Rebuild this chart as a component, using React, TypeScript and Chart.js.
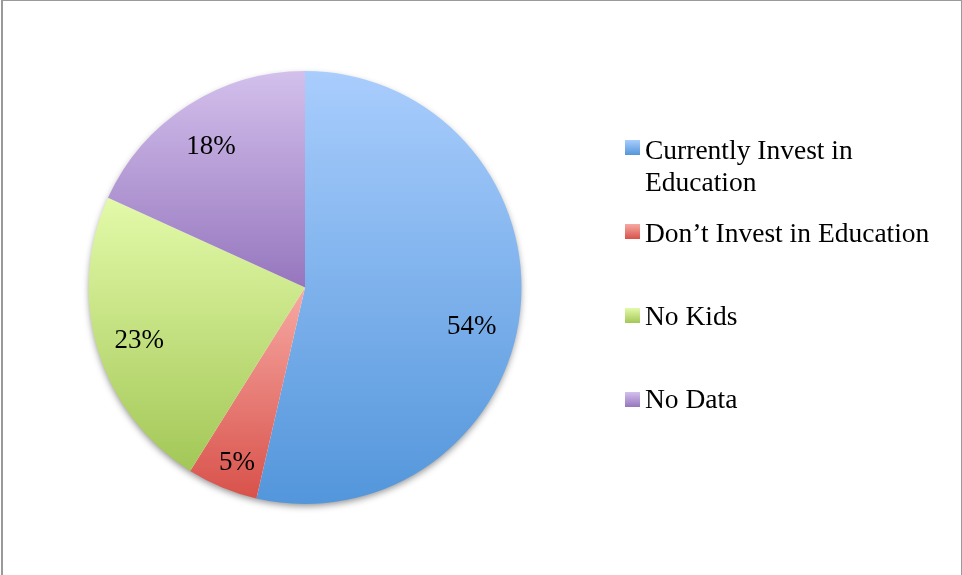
import React, { useEffect, useRef } from 'react';
import { Chart, registerables } from 'chart.js';

Chart.register(...registerables);

const categories = ['Currently Invest in Education', 'Don’t Invest in Education', 'No Kids', 'No Data'];
const legendLines = [['Currently Invest in', 'Education'], ['Don’t Invest in Education'], ['No Kids'], ['No Data']];
const shares = [53.6, 5.3, 22.9, 18.2];
const gradientTops = ['#a9cdfd', '#f7a9a3', '#e3faa9', '#d3c0ec'];
const gradientBottoms = ['#5396db', '#d8524b', '#a3c757', '#9676be'];
// small pixel nudges of the percentage labels away from the slice mid-line
const labelNudges = [[-2, 20], [-3, 18], [-3, 4], [-2, 2]];

const FONT = '"Liberation Serif", serif';

function sliceYBounds(cy: number, r: number, a0: number, a1: number) {
  const ys = [cy, cy + r * Math.sin(a0), cy + r * Math.sin(a1)];
  const within = (a: number) => {
    for (let k = -2; k <= 2; k++) {
      const t = a + k * 2 * Math.PI;
      if (t >= a0 && t <= a1) return true;
    }
    return false;
  };
  if (within(Math.PI / 2)) ys.push(cy + r);
  if (within(-Math.PI / 2)) ys.push(cy - r);
  return [Math.min(...ys), Math.max(...ys)];
}

const shadowPlugin = {
  id: 'pieShadow',
  beforeDatasetsDraw(chart: any) {
    const meta = chart.getDatasetMeta(0);
    const arc = meta.data[0];
    if (!arc) return;
    const ctx = chart.ctx;
    ctx.save();
    ctx.shadowColor = 'rgba(0,0,0,0.45)';
    ctx.shadowBlur = 7;
    ctx.shadowOffsetX = 0;
    ctx.shadowOffsetY = 3;
    ctx.beginPath();
    ctx.arc(arc.x, arc.y, arc.outerRadius - 1, 0, Math.PI * 2);
    ctx.fillStyle = '#ffffff';
    ctx.fill();
    ctx.restore();
  },
};

const labelPlugin = {
  id: 'pieLabels',
  afterDatasetsDraw(chart: any) {
    const meta = chart.getDatasetMeta(0);
    const ctx = chart.ctx;
    const total = shares.reduce((a, b) => a + b, 0);
    ctx.save();
    ctx.font = `27px ${FONT}`;
    ctx.fillStyle = '#000000';
    ctx.textAlign = 'center';
    ctx.textBaseline = 'middle';
    meta.data.forEach((arc: any, i: number) => {
      const mid = (arc.startAngle + arc.endAngle) / 2;
      const d = arc.outerRadius * 0.785;
      const x = arc.x + d * Math.cos(mid) + labelNudges[i][0];
      const y = arc.y + d * Math.sin(mid) + labelNudges[i][1];
      ctx.fillText(`${Math.round((shares[i] / total) * 100)}%`, x, y);
    });
    ctx.restore();
  },
};

const legendPlugin = {
  id: 'sideLegend',
  afterDraw(chart: any) {
    const ctx = chart.ctx;
    const markerX = 625;
    const markerTops = [140, 224, 308, 392];
    const baselines = [[159, 191], [242], [325], [408]];
    ctx.save();
    ctx.font = `27.5px ${FONT}`;
    ctx.textAlign = 'left';
    ctx.textBaseline = 'alphabetic';
    categories.forEach((_, i) => {
      const g = ctx.createLinearGradient(0, markerTops[i], 0, markerTops[i] + 15);
      g.addColorStop(0, gradientTops[i]);
      g.addColorStop(1, gradientBottoms[i]);
      ctx.fillStyle = g;
      ctx.fillRect(markerX, markerTops[i], 15, 15);
      ctx.fillStyle = '#000000';
      legendLines[i].forEach((line, j) => {
        ctx.fillText(line, 645, baselines[i][j]);
      });
    });
    ctx.restore();
  },
};

export default function App() {
  const canvasRef = useRef<HTMLCanvasElement | null>(null);

  useEffect(() => {
    document.body.style.margin = '0';
    const canvas = canvasRef.current;
    if (!canvas) return;
    const total = shares.reduce((a, b) => a + b, 0);
    const chart = new Chart(canvas, {
      type: 'pie',
      data: {
        labels: categories,
        datasets: [
          {
            data: shares,
            borderWidth: 0,
            backgroundColor: (c: any) => {
              const ch = c.chart;
              const area = ch.chartArea;
              const i = c.dataIndex ?? 0;
              if (!area) return gradientTops[i];
              const cx = (area.left + area.right) / 2;
              const cy = (area.top + area.bottom) / 2;
              const r = Math.min(area.right - area.left, area.bottom - area.top) / 2;
              let before = 0;
              for (let k = 0; k < i; k++) before += shares[k];
              const a0 = -Math.PI / 2 + (before / total) * 2 * Math.PI;
              const a1 = a0 + (shares[i] / total) * 2 * Math.PI;
              const [y0, y1] = sliceYBounds(cy, r, a0, a1);
              const g = ch.ctx.createLinearGradient(0, y0, 0, y1);
              g.addColorStop(0, gradientTops[i]);
              g.addColorStop(1, gradientBottoms[i]);
              return g;
            },
          },
        ],
      },
      options: {
        responsive: false,
        animation: false,
        events: [],
        layout: { padding: { left: 88, right: 440, top: 71, bottom: 71 } },
        plugins: {
          legend: { display: false },
          tooltip: { enabled: false },
        },
      },
      plugins: [shadowPlugin, labelPlugin, legendPlugin],
    });
    return () => chart.destroy();
  }, []);

  return (
    <div style={{ position: 'relative', width: 962, height: 575, background: '#ffffff', overflow: 'hidden' }}>
      <canvas ref={canvasRef} width={962} height={575} style={{ position: 'absolute', left: 0, top: 0 }} />
      <div
        style={{
          position: 'absolute',
          left: 1,
          top: 0,
          width: 958,
          height: 600,
          borderTop: '1px solid #9a9a9a',
          borderLeft: '2px solid #9a9a9a',
          borderRight: '1px solid #9a9a9a',
          pointerEvents: 'none',
        }}
      />
    </div>
  );
}
